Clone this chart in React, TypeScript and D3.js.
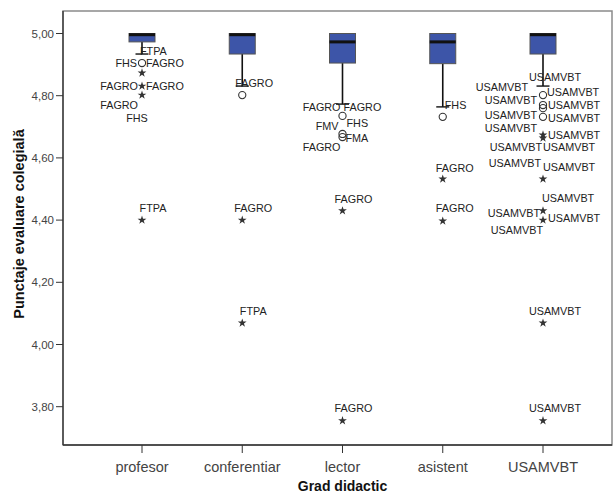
import React from "react";
import * as d3 from "d3";

const categories = ["profesor", "conferentiar", "lector", "asistent", "USAMVBT"];
const q1 = [4.973, 4.934, 4.905, 4.903, 4.934];
const median = [5.0, 5.0, 4.973, 4.973, 5.0];
const q3 = [5.0, 5.0, 5.0, 5.0, 5.0];
const whiskerLow = [4.934, 4.831, 4.773, 4.764, 4.831];
const yTicks = [3.8, 4.0, 4.2, 4.4, 4.6, 4.8, 5.0];

// mild outliers (circles)
const circleCat = ["profesor", "conferentiar", "lector", "lector", "lector", "asistent", "USAMVBT", "USAMVBT", "USAMVBT", "USAMVBT"];
const circleVal = [4.905, 4.802, 4.735, 4.677, 4.667, 4.732, 4.802, 4.770, 4.760, 4.732];
// extreme outliers (stars)
const starCat = ["profesor", "profesor", "profesor", "profesor", "conferentiar", "conferentiar", "lector", "lector", "asistent", "asistent", "USAMVBT", "USAMVBT", "USAMVBT", "USAMVBT", "USAMVBT", "USAMVBT", "USAMVBT"];
const starVal = [4.873, 4.831, 4.802, 4.40, 4.40, 4.069, 4.43, 3.755, 4.532, 4.397, 4.674, 4.664, 4.532, 4.43, 4.40, 4.069, 3.755];

// case labels: category, text, value (text centre)
const labelCat = [
  "profesor", "profesor", "profesor", "profesor", "profesor", "profesor", "profesor", "profesor",
  "conferentiar", "conferentiar", "conferentiar",
  "lector", "lector", "lector", "lector", "lector", "lector", "lector", "lector",
  "asistent", "asistent", "asistent",
  "USAMVBT", "USAMVBT", "USAMVBT", "USAMVBT", "USAMVBT", "USAMVBT", "USAMVBT", "USAMVBT",
  "USAMVBT", "USAMVBT", "USAMVBT", "USAMVBT", "USAMVBT", "USAMVBT", "USAMVBT", "USAMVBT", "USAMVBT",
  "USAMVBT", "USAMVBT",
];
const labelText = [
  "FTPA", "FHS", "FAGRO", "FAGRO", "FAGRO", "FAGRO", "FHS", "FTPA",
  "FAGRO", "FAGRO", "FTPA",
  "FAGRO", "FAGRO", "FMV", "FHS", "FMA", "FAGRO", "FAGRO", "FAGRO",
  "FHS", "FAGRO", "FAGRO",
  "USAMVBT", "USAMVBT", "USAMVBT", "USAMVBT", "USAMVBT", "USAMVBT", "USAMVBT", "USAMVBT",
  "USAMVBT", "USAMVBT", "USAMVBT", "USAMVBT", "USAMVBT", "USAMVBT", "USAMVBT", "USAMVBT", "USAMVBT",
  "USAMVBT", "USAMVBT",
];
const labelAt = [
  4.944, 4.905, 4.905, 4.831, 4.831, 4.770, 4.728, 4.439,
  4.841, 4.439, 4.108,
  4.764, 4.764, 4.703, 4.712, 4.664, 4.635, 4.468, 3.795,
  4.770, 4.568, 4.439,
  4.828, 4.786, 4.738, 4.696, 4.635, 4.584, 4.423, 4.368,
  4.860, 4.812, 4.770, 4.728, 4.674, 4.635, 4.571, 4.471, 4.407,
  4.108, 3.795,
];
// label layout (horizontal offset from box centre, anchor)
const labelDx = [
  -2, -5, 4, -4, 4, -4, -5, 11,
  -7, 11, 11,
  -2, 1, -4, 4, 3, -2, 11, 11,
  2, 12, 12,
  -15, -6, -6, -6, -1, -2, -3, 0,
  12, 4, 5, 5, 5, 0, 0, -1, 5,
  12, 12,
];
const labelAnchor = [
  "start", "end", "start", "end", "start", "end", "middle", "middle",
  "start", "middle", "middle",
  "end", "start", "end", "start", "start", "end", "middle", "middle",
  "start", "middle", "middle",
  "end", "end", "end", "end", "end", "end", "end", "end",
  "middle", "start", "start", "start", "start", "start", "start", "start", "start",
  "middle", "middle",
];

const W = 613;
const H = 497;
const frame = { left: 63, right: 612, top: 11, bottom: 445 };

export default function App() {
  const x = d3.scalePoint<string>().domain(categories).range([142, 543]);
  const y = d3.scaleLinear().domain([3.8, 5.0]).range([406.7, 33.5]);
  const boxW = 26;
  const starPath = d3.symbol().type(d3.symbolStar).size(24)() as string;
  const font = "Arial, 'Liberation Sans', sans-serif";

  return (
    <svg width={W} height={H} style={{ position: "absolute", left: 0, top: 0, background: "#fff" }} fontFamily={font}>
      <rect x={0} y={0} width={W} height={H} fill="#fff" />
      {/* frame */}
      <rect x={frame.left} y={frame.top} width={frame.right - frame.left} height={frame.bottom - frame.top} fill="none" stroke="#8a8a8a" strokeWidth={1.5} />
      <line x1={frame.left} x2={frame.left} y1={frame.top} y2={frame.bottom} stroke="#333" strokeWidth={1.3} />
      <line x1={frame.left} x2={frame.right} y1={frame.bottom} y2={frame.bottom} stroke="#333" strokeWidth={1.3} />

      {/* y axis ticks */}
      {yTicks.map((t) => (
        <g key={t}>
          <line x1={frame.left - 7} x2={frame.left} y1={y(t)} y2={y(t)} stroke="#333" strokeWidth={1} />
          <text x={frame.left - 9} y={y(t)} dy="0.35em" textAnchor="end" fontSize={11.5} fill="#444">
            {d3.format(".2f")(t).replace(".", ",")}
          </text>
        </g>
      ))}

      {/* x axis ticks */}
      {categories.map((c) => (
        <g key={c}>
          <line x1={x(c)} x2={x(c)} y1={frame.bottom} y2={frame.bottom + 8} stroke="#333" strokeWidth={1} />
          <text x={x(c)} y={frame.bottom + 22} dy="0.35em" textAnchor="middle" fontSize={14.5} fill="#444">
            {c}
          </text>
        </g>
      ))}

      {/* axis titles */}
      <text x={W / 2 + 36} y={486} dy="0.35em" textAnchor="middle" fontSize={14} fontWeight="bold" fill="#111">
        Grad didactic
      </text>
      <text transform={`translate(19, ${(frame.top + frame.bottom) / 2 - 4}) rotate(-90)`} dy="0.35em" textAnchor="middle" fontSize={14.5} fontWeight="bold" fill="#111">
        Punctaje evaluare colegială
      </text>

      {/* boxes */}
      {categories.map((c, i) => {
        const cx = x(c) as number;
        return (
          <g key={c}>
            <line x1={cx} x2={cx} y1={y(q1[i])} y2={y(whiskerLow[i])} stroke="#111" strokeWidth={1.6} />
            <line x1={cx - boxW / 4} x2={cx + boxW / 4} y1={y(whiskerLow[i])} y2={y(whiskerLow[i])} stroke="#111" strokeWidth={1.4} />
            <rect x={cx - boxW / 2} y={y(q3[i])} width={boxW} height={y(q1[i]) - y(q3[i])} fill="#3d55a8" stroke="#555" strokeWidth={1} />
            <line x1={cx - boxW / 2} x2={cx + boxW / 2} y1={y(median[i]) + (median[i] === q3[i] ? 1.2 : 0)} y2={y(median[i]) + (median[i] === q3[i] ? 1.2 : 0)} stroke="#111" strokeWidth={3} />
          </g>
        );
      })}

      {/* outliers */}
      {circleVal.map((v, i) => (
        <circle key={"c" + i} cx={x(circleCat[i])} cy={y(v)} r={3.6} fill="none" stroke="#333" strokeWidth={1.1} />
      ))}
      {starVal.map((v, i) => (
        <path key={"s" + i} d={starPath} transform={`translate(${x(starCat[i])},${y(v)})`} fill="#333" />
      ))}

      {/* case labels */}
      {labelText.map((t, i) => (
        <text
          key={"l" + i}
          x={(x(labelCat[i]) as number) + labelDx[i]}
          y={y(labelAt[i])}
          dy="0.35em"
          textAnchor={labelAnchor[i]}
          fontSize={10.8}
          fill="#222"
        >
          {t}
        </text>
      ))}
    </svg>
  );
}
